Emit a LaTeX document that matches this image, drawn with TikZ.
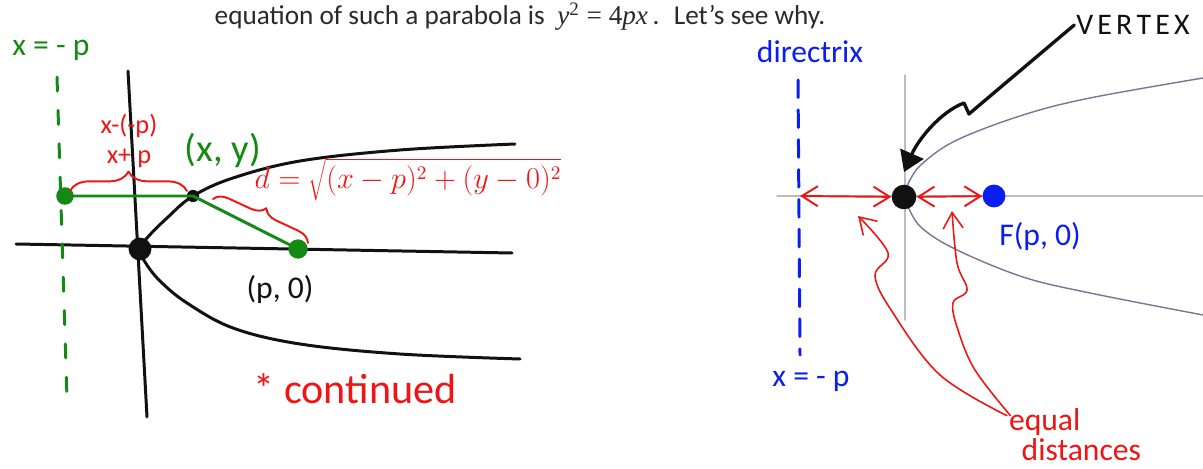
\documentclass[tikz,border=0pt]{standalone}
\usepackage{fontspec}
\setmainfont{Carlito}
\newfontfamily\timesfont{Liberation Serif}
\usetikzlibrary{arrows.meta,decorations.pathreplacing}
\definecolor{ink}{HTML}{111111}
\definecolor{print}{HTML}{2A2A2A}
\definecolor{leaf}{HTML}{148A14}
\definecolor{pen}{HTML}{F01414}
\definecolor{ocean}{HTML}{0A1EF0}
\definecolor{axisgrey}{HTML}{BDBDBD}
\definecolor{lilac}{HTML}{7C7398}

\begin{document}
\begin{tikzpicture}[x=0.02cm, y=-0.02cm, line cap=round, line join=round,
    hand/.style={line width=1.7pt, draw=ink},
    leafline/.style={line width=1.7pt, draw=leaf},
    penline/.style={line width=1.1pt, draw=pen},
    barb/.style={-{Straight Barb[length=3.2mm,width=4mm]}},
    twobarb/.style={{Straight Barb[length=3.2mm,width=4mm]}-{Straight Barb[length=3.2mm,width=4mm]}},
    lab/.style={inner sep=1pt, font=\fontsize{18}{20}\selectfont},
    dot/.style={circle, inner sep=0pt, minimum size=#1},
    axis/.style={axisgrey, line width=1.1pt}]
  % fixed canvas, pixel units
  \path[use as bounding box] (0,0) rectangle (1203,469);

  % ================= printed line =================
  \node[text=print, font=\fontsize{15.5}{18}\selectfont, inner sep=0pt] (intro) at (520,17)
    {equation of such a parabola is \ {\timesfont\itshape y}{\timesfont\textsuperscript{2} = 4}{\timesfont\itshape px}\,. \ Let's see why.};

  % ================= left sketch: axes and parabola =================
  \coordinate (ytop) at (128,71);
  \coordinate (ybot) at (147,417);
  \coordinate (xleft) at (16,244);
  \coordinate (xright) at (512,253);
  \draw[hand] (ytop) -- (ybot);
  \draw[hand] (xleft) -- (xright);
  \draw[hand] plot[smooth, tension=0.6] coordinates
    {(515,144) (400,150) (300,161) (233,178) (193,196) (167,218) (147,238) (140,249)
     (145,262) (160,281) (187,303) (233,328) (300,344) (400,354) (520,359)};
  \node[dot=13pt, fill=ink] (vtxL) at (140,249) {};

  % directrix x = -p
  \draw[leafline, dash pattern=on 8pt off 11pt] (57,77) -- (67,398);
  \node[lab, text=leaf] (dirlab) at (51,50) {x = - p};

  % point, foot on directrix, focus
  \node[dot=10pt, fill=leaf] (foot) at (65,196) {};
  \node[dot=7pt, fill=ink] (ptP) at (193,196) {};
  \node[dot=11pt, fill=leaf] (focL) at (298,249) {};
  \draw[leafline] (foot.center) -- (ptP.center) -- (focL.center);
  \node[lab, text=leaf, font=\fontsize{22}{24}\selectfont] (ptlab) at (223,150) {(x, y)};
  \node[lab, text=ink] (foclab) at (280,289) {(p, 0)};

  % horizontal distance
  \draw[penline, decorate, decoration={brace, amplitude=11pt}] (70,191) -- (187,191);
  \node[lab, text=pen, align=center, font=\fontsize{15}{17}\selectfont] (dist1) at (129,141)
    {x-(-p)\\x+ p};

  % slanted distance
  \draw[penline, decorate, decoration={brace, amplitude=8pt}] (213,199) -- (308,243);
  \node[lab, text=pen, font=\fontsize{16}{18}\selectfont] (dist3) at (408,180) {$d=\sqrt{(x-p)^2+(y-0)^2}$};

  \node[lab, text=pen, font=\fontsize{24}{26}\selectfont] (cont) at (355,389) {* continued};

  % ================= right sketch: plotted parabola =================
  \draw[axis] (777,196) -- (1203,196);
  \draw[axis] (905,75) -- (905,320);
  \draw[lilac, line width=0.8pt] plot[smooth, tension=0.6] coordinates
    {(1203,78) (1090,98) (1023,115) (957,140) (923,163) (910,180) (905,196)
     (910,211) (923,229) (957,250) (1023,277) (1090,293) (1203,315)};

  % directrix
  \draw[ocean, line width=1.7pt, dash pattern=on 10pt off 7pt] (798,80) -- (800,355);
  \node[lab, text=ocean] (dirname) at (810,52) {directrix};
  \node[lab, text=ocean] (direq) at (811,381) {x = - p};

  % vertex and focus
  \coordinate (dfoot) at (800,196);
  \node[dot=14pt, fill=ink] (vtxR) at (904,197) {};
  \node[dot=13pt, fill=ocean] (focR) at (994,196) {};
  \node[lab, text=ocean] (foclabR) at (1040,236) {F(p, 0)};
  \draw[penline, twobarb] (dfoot) -- (vtxR);
  \draw[penline, twobarb] (vtxR) -- (focR);

  % vertex pointer
  \node[lab, text=ink, font=\fontsize{17}{18}\selectfont] (vtxlab) at (1133,25)
    {V\hspace{0.14em}E\hspace{0.14em}R\hspace{0.14em}T\hspace{0.14em}E\hspace{0.14em}X};
  \draw[hand, line width=1.9pt, -{Triangle[length=4mm,width=5mm]}]
    (vtxlab.west) -- (976,108) -- (969,114) -- (964,103)
    .. controls (940,112) and (918,140) .. ([yshift=7pt]vtxR.north);

  % equal distances
  \node[lab, text=pen, align=left, font=\fontsize{18}{17}\selectfont] (eqd) at (1075,435)
    {equal\\\hspace{0.4em}distances};
  \coordinate (tipL) at (858,216);
  \coordinate (tipR) at (952,211);
  \draw[penline, line width=0.9pt, barb] plot[smooth, tension=0.6] coordinates
    {([yshift=-5pt]eqd.north west) (940,375) (893,313) (875,276) (888,253) (tipL)};
  \draw[penline, line width=0.9pt, barb] plot[smooth, tension=0.6] coordinates
    {([xshift=2pt,yshift=-5pt]eqd.north west) (975,370) (958,330) (953,303) (967,290) (957,263) (tipR)};
\end{tikzpicture}
\end{document}
